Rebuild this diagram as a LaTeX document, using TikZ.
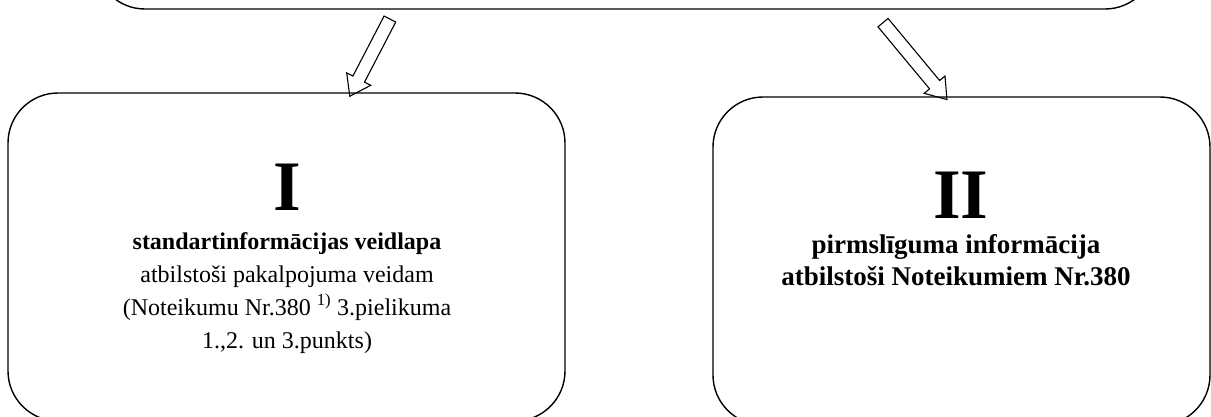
\documentclass[tikz,border=0pt]{standalone}
\usepackage{fontspec}
\setmainfont{Liberation Serif}
\usetikzlibrary{shapes.arrows}

\begin{document}
\begin{tikzpicture}[x=1pt,y=-1pt,
  box/.style={draw,line width=1.4pt,rounded corners=50pt,inner sep=0pt},
  hollow/.style={draw,line width=1.1pt,single arrow,inner sep=6pt,
    single arrow head extend=7pt,single arrow tip angle=70,
    sloped,allow upside down},
  numeral/.style={font=\fontsize{71}{71}\selectfont\bfseries},
  body/.style={align=center,anchor=base,font=\fontsize{24}{33}\selectfont}]
\clip (0,0) rectangle (1211,416);

\node[box,minimum width=1060pt,minimum height=120pt] (src) at (625,-51) {};
\node[box,minimum width=557pt,minimum height=328pt] (std) at (286.5,257) {};
\node[box,minimum width=497pt,minimum height=328pt] (pre) at (961.5,261) {};

\coordinate (ltail) at (392,15);
\coordinate (lhead) at (352,92);
\coordinate (rtail) at (880,19);
\coordinate (rhead) at (944,96);
\path (ltail) -- node[hollow,minimum height=87pt] (larr) {} (lhead);
\path (rtail) -- node[hollow,minimum height=100pt] (rarr) {} (rhead);

\node[numeral] (one) at (287,187) {I};
\node[body] (stdtext) at (287,348) {\textbf{standartinformācijas veidlapa}\\
  atbilstoši pakalpojuma veidam\\
  (Noteikumu Nr.380 \textsuperscript{1)} 3.pielikuma\\
  1.,2. un 3.punkts)};

\node[numeral] (two) at (961,195) {II};
\node[body,font=\fontsize{27}{32}\selectfont\bfseries] (pretext) at (956,285)
  {pirmslīguma informācija\\atbilstoši Noteikumiem Nr.380};
\end{tikzpicture}
\end{document}
